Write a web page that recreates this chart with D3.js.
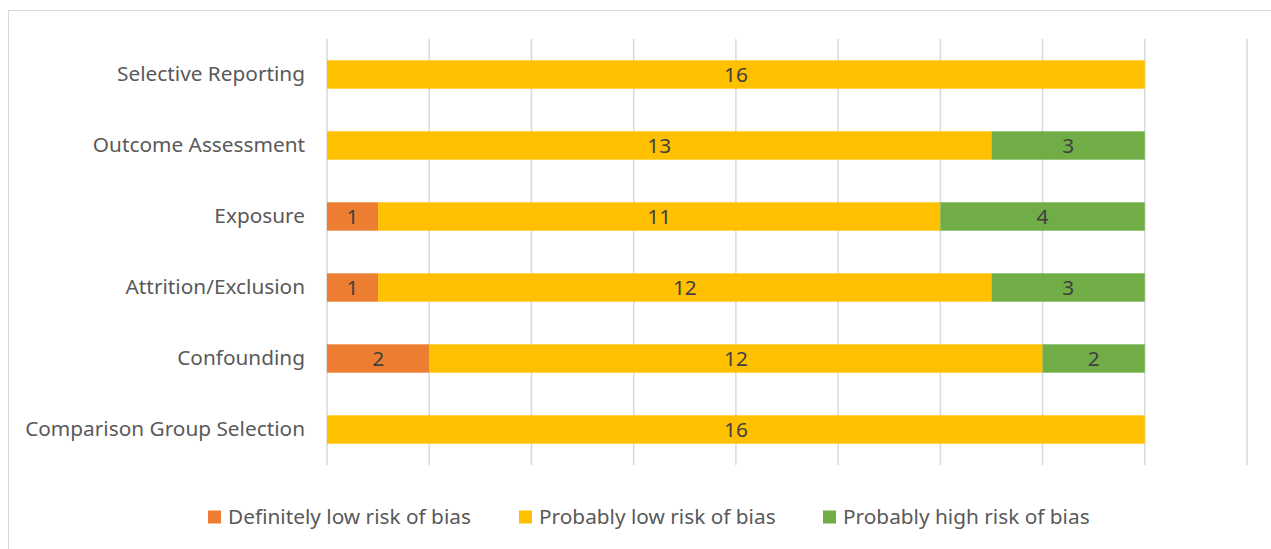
<!DOCTYPE html>
<html>
<head>
<meta charset="utf-8">
<script src="https://cdn.jsdelivr.net/npm/d3@7"></script>
<style>
  body { margin: 0; background: #fff; }
  svg { display: block; font-family: "Noto Sans", sans-serif; }
</style>
</head>
<body>
<div id="chart"></div>
<script>
/* DATA */
const categories = [
  "Selective Reporting",
  "Outcome Assessment",
  "Exposure",
  "Attrition/Exclusion",
  "Confounding",
  "Comparison Group Selection"
];
const seriesNames = ["Definitely low risk of bias", "Probably low risk of bias", "Probably high risk of bias"];
const definitelyLow = [0, 0, 1, 1, 2, 0];
const probablyLow = [16, 13, 11, 12, 12, 16];
const probablyHigh = [0, 3, 4, 3, 2, 0];
const xTicks = [0, 2, 4, 6, 8, 10, 12, 14, 16, 18];
const colors = ["#ED7D31", "#FFC000", "#70AD47"];

/* LAYOUT */
const width = 1271, height = 549,
  margin = { top: 39, bottom: 84, left: 327, right: 24 },
  fontSize = 20.8;

const rows = categories.map((c, i) => ({
  category: c,
  "Definitely low risk of bias": definitelyLow[i],
  "Probably low risk of bias": probablyLow[i],
  "Probably high risk of bias": probablyHigh[i]
}));

const stacked = d3.stack().keys(seriesNames)(rows);

const xScale = d3.scaleLinear()
  .domain([0, 18])
  .range([margin.left, width - margin.right]);

const yScale = d3.scaleBand()
  .domain(categories)
  .range([margin.top, height - margin.bottom])
  .paddingInner(0.6)
  .paddingOuter(0.3);

const colorScale = d3.scaleOrdinal().domain(seriesNames).range(colors);

const svg = d3.select("#chart")
  .append("svg")
  .attr("width", width)
  .attr("height", height);

// chart border
svg.append("rect")
  .attr("x", 8.5).attr("y", 10.5)
  .attr("width", 1270).attr("height", 545)
  .attr("fill", "none")
  .attr("stroke", "#d9d9d9")
  .attr("stroke-width", 1);

// gridlines
svg.append("g")
  .selectAll("line")
  .data(xTicks)
  .join("line")
  .attr("x1", d => xScale(d)).attr("x2", d => xScale(d))
  .attr("y1", margin.top).attr("y2", height - margin.bottom)
  .attr("stroke", "#d9d9d9")
  .attr("stroke-width", 1.5);

// category labels
const yAxis = d3.axisLeft(yScale).tickSize(0).tickPadding(22);
svg.append("g")
  .attr("transform", `translate(${margin.left}, 0)`)
  .call(yAxis)
  .call(g => g.select(".domain").remove())
  .selectAll("text")
  .attr("font-size", fontSize)
  .attr("font-family", "Noto Sans, sans-serif")
  .attr("fill", "#595959");

// bars
const layers = svg.append("g")
  .selectAll("g")
  .data(stacked)
  .join("g")
  .attr("fill", d => colorScale(d.key));

layers.selectAll("rect")
  .data(d => d.filter(s => s[1] - s[0] > 0))
  .join("rect")
  .attr("x", d => xScale(d[0]))
  .attr("y", d => yScale(d.data.category))
  .attr("width", d => xScale(d[1]) - xScale(d[0]))
  .attr("height", yScale.bandwidth());

// value labels
layers.selectAll("text")
  .data(d => d.filter(s => s[1] - s[0] > 0))
  .join("text")
  .attr("x", d => (xScale(d[0]) + xScale(d[1])) / 2)
  .attr("y", d => yScale(d.data.category) + yScale.bandwidth() / 2)
  .attr("dy", "0.35em")
  .attr("text-anchor", "middle")
  .attr("font-size", fontSize)
  .attr("fill", "#404040")
  .text(d => d[1] - d[0]);

// legend
const legendX = [208, 519, 823];
const legend = svg.append("g")
  .selectAll("g")
  .data(seriesNames)
  .join("g")
  .attr("transform", (d, i) => `translate(${legendX[i]}, 517)`);

legend.append("rect")
  .attr("x", 0).attr("y", -6.5)
  .attr("width", 13).attr("height", 13)
  .attr("fill", d => colorScale(d));

legend.append("text")
  .attr("x", 20)
  .attr("dy", "0.35em")
  .attr("font-size", fontSize)
  .attr("fill", "#595959")
  .text(d => d);
</script>
</body>
</html>
